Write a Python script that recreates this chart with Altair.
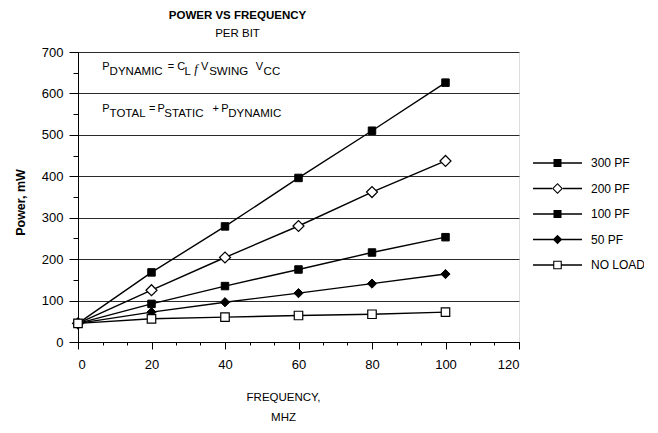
import altair as alt
import pandas as pd

# ---------------- data ----------------
freq = [0, 20, 40, 60, 80, 100]
series_names = ["300 PF", "200 PF", "100 PF", "50 PF", "NO LOAD"]
p_300pf = [45, 168, 279, 396, 510, 626]
p_200pf = [45, 125, 204, 280, 362, 437]
p_100pf = [45, 92, 135, 175, 216, 253]
p_50pf = [45, 72, 96, 118, 141, 164]
p_noload = [45, 56, 60, 64, 67, 72]

x_major_ticks = [0, 20, 40, 60, 80, 100, 120]
x_minor_ticks = [0, 6.667, 13.333, 20, 26.667, 33.333, 40, 46.667, 53.333, 60,
                 66.667, 73.333, 80, 86.667, 93.333, 100, 106.667, 113.333, 120]
y_major_ticks = [0, 100, 200, 300, 400, 500, 600, 700]
y_minor_ticks = [0, 50, 100, 150, 200, 250, 300, 350, 400, 450, 500, 550, 600, 650, 700]

# formula annotation pieces (text, x in MHz, y in mW, kind)
ann_text = ["P", "DYNAMIC", "=", "C", "L", "f", "V", "SWING", "V", "CC",
            "P", "TOTAL", "=", "P", "STATIC", "+", "P", "DYNAMIC"]
ann_x = [6.6, 8.6, 24.4, 27.0, 29.0, 31.6, 33.5, 35.7, 48.4, 50.5,
         6.6, 8.6, 19.3, 21.6, 23.5, 36.6, 39.0, 40.9]
ann_y = [658] * 10 + [557] * 8
ann_kind = ["main", "sub", "main", "main", "sub", "ital", "main", "sub", "main", "sub",
            "main", "sub", "main", "main", "sub", "main", "main", "sub"]

# ---------------- tables ----------------
all_vals = [p_300pf, p_200pf, p_100pf, p_50pf, p_noload]
rows = []
for name, vals in zip(series_names, all_vals):
    for f, v in zip(freq, vals):
        rows.append({"freq": f, "power": v, "series": name})
df = pd.DataFrame(rows)
ann = pd.DataFrame({"text": ann_text, "ax": ann_x, "ay": ann_y, "kind": ann_kind})

SANS = "Liberation Sans, Arial, sans-serif"

x_scale = alt.Scale(domain=[0, 120], nice=False, zero=False)
y_scale = alt.Scale(domain=[0, 700], nice=False)

# ---------------- legend symbols: line + marker as custom paths ----------------
SYM_SIZE = 144            # legend symbol "size" (12 px box)
R = (SYM_SIZE ** 0.5) / 2  # px per path unit
HALF_LINE = 24.5           # half length of the legend line sample, px


def u(px):
    return round(px / R, 4)


L = u(HALF_LINE)
T = u(0.7)


def rect(x0, x1, t):
    return f"M{x0},{-t}L{x1},{-t}L{x1},{t}L{x0},{t}Z"


def sq_filled(h):
    a = u(h)
    return rect(-L, L, T) + f"M{-a},{-a}L{a},{-a}L{a},{a}L{-a},{a}Z"


def sq_open(h, w):
    a, b = u(h), u(h - w)
    return (rect(-L, -a, T) + rect(a, L, T)
            + f"M{-a},{-a}L{a},{-a}L{a},{a}L{-a},{a}Z"
            + f"M{-b},{-b}L{-b},{b}L{b},{b}L{b},{-b}Z")


def dia_filled(h):
    a = u(h)
    return rect(-L, L, T) + f"M{-a},0L0,{-a}L{a},0L0,{a}Z"


def dia_open(h, w):
    a, b = u(h), u(h - w * 1.414)
    return (rect(-L, -a, T) + rect(a, L, T)
            + f"M{-a},0L0,{-a}L{a},0L0,{a}Z"
            + f"M{-b},0L0,{b}L{b},0L0,{-b}Z")


legend_paths = [sq_filled(4.0), dia_open(5.5, 1.1), sq_filled(4.0), dia_filled(4.8), sq_open(4.3, 1.1)]

# ---------------- axes ----------------
x_major = alt.Axis(values=x_major_ticks, orient="bottom", grid=False, tickSize=7,
                   tickColor="black", domainColor="black", labelFont=SANS,
                   labelFontSize=13, labelColor="black", labelPadding=9,
                   title=["FREQUENCY,", "MHZ"], titleFont=SANS, titleFontSize=11.5,
                   titleFontWeight="normal", titleColor="black", titleX=205, titleY=49,
                   titleAlign="center", titleBaseline="top", titleLineHeight=20)
y_major = alt.Axis(values=y_major_ticks, orient="left", grid=True, gridColor="#2a2a2a",
                   gridWidth=1, tickSize=9, tickColor="black", domainColor="black",
                   labelFont=SANS, labelFontSize=13, labelColor="black", labelPadding=6,
                   title="Power, mW", titleFont=SANS, titleFontSize=12.5,
                   titleFontWeight="bold", titleColor="black", titleX=-58, titleY=150,
                   titleAngle=-90, titleAlign="center", titleBaseline="middle")
x_minor = alt.Axis(values=x_minor_ticks, orient="bottom", labels=False, domain=False,
                   grid=False, tickSize=3, tickColor="black", title=None)
y_minor = alt.Axis(values=y_minor_ticks, orient="left", labels=False, domain=False,
                   grid=False, tickSize=5, tickColor="black", title=None)

base = alt.Chart(df)

lines = base.mark_line(color="black", strokeWidth=1.4).encode(
    x=alt.X("freq:Q", scale=x_scale, axis=x_major),
    y=alt.Y("power:Q", scale=y_scale, axis=y_major),
    detail="series:N",
)

minor = base.mark_point(size=0, opacity=0).encode(
    x=alt.X("freq:Q", scale=x_scale, axis=x_minor),
    y=alt.Y("power:Q", scale=y_scale, axis=y_minor),
)

enc = dict(x=alt.X("freq:Q", scale=x_scale, axis=None),
           y=alt.Y("power:Q", scale=y_scale, axis=None))

pts_sq_filled = base.transform_filter(
    alt.FieldOneOfPredicate(field="series", oneOf=["300 PF", "100 PF"])
).mark_point(shape="square", filled=True, fill="black", stroke="black",
             strokeWidth=1, size=56, opacity=1).encode(**enc)
pts_dia_open = base.transform_filter(
    alt.FieldEqualPredicate(field="series", equal="200 PF")
).mark_point(shape="diamond", filled=True, fill="white", stroke="black",
             strokeWidth=1.2, size=121, opacity=1).encode(**enc)
pts_dia_filled = base.transform_filter(
    alt.FieldEqualPredicate(field="series", equal="50 PF")
).mark_point(shape="diamond", filled=True, fill="black", stroke="black",
             strokeWidth=1, size=85, opacity=1).encode(**enc)
pts_sq_open = base.transform_filter(
    alt.FieldEqualPredicate(field="series", equal="NO LOAD")
).mark_point(shape="square", filled=True, fill="white", stroke="black",
             strokeWidth=1.2, size=72, opacity=1).encode(**enc)

legend_layer = base.mark_point(size=0, filled=True, fill="black", strokeWidth=0).encode(
    x=alt.X("freq:Q", scale=x_scale, axis=None),
    y=alt.Y("power:Q", scale=y_scale, axis=None),
    shape=alt.Shape("series:N",
                    scale=alt.Scale(domain=series_names, range=legend_paths),
                    sort=series_names,
                    legend=alt.Legend(title=None, orient="none", legendX=473.5, legendY=105,
                                      symbolSize=SYM_SIZE, symbolFillColor="black",
                                      symbolStrokeWidth=0, symbolOpacity=1,
                                      labelFont=SANS, labelFontSize=12,
                                      labelColor="black", labelOffset=27.5,
                                      rowPadding=13.5, padding=0)),
)

abase = alt.Chart(ann)
aenc = dict(x=alt.X("ax:Q", scale=x_scale, axis=None),
            y=alt.Y("ay:Q", scale=y_scale, axis=None),
            text="text:N")
ann_main = abase.transform_filter(alt.datum.kind == "main").mark_text(
    align="left", baseline="middle", font=SANS, fontSize=11, color="black", dy=-2
).encode(**aenc)
ann_sub = abase.transform_filter(alt.datum.kind == "sub").mark_text(
    align="left", baseline="middle", font=SANS, fontSize=11.5, color="black", dy=3
).encode(**aenc)
ann_ital = abase.transform_filter(alt.datum.kind == "ital").mark_text(
    align="left", baseline="middle", font="Liberation Serif, serif", fontStyle="italic",
    fontSize=12.5, color="black", dy=0
).encode(**aenc)

chart = alt.layer(
    lines, minor, pts_sq_filled, pts_dia_open, pts_dia_filled, pts_sq_open,
    legend_layer, ann_main, ann_sub, ann_ital,
).resolve_axis(
    x="independent", y="independent"
).resolve_scale(
    shape="independent"
).properties(
    width=441,
    height=290,
    autosize=alt.AutoSizeParams(type="none"),
    padding={"left": 70, "top": 44, "right": 125, "bottom": 81},
    title=alt.TitleParams(text="POWER VS FREQUENCY", subtitle="PER BIT",
                          anchor="middle", dx=-61, font=SANS, fontSize=11.5,
                          fontWeight="bold", color="black", subtitleFont=SANS,
                          subtitleFontSize=11.5, subtitleColor="black",
                          subtitlePadding=6, offset=7),
).configure_view(
    stroke="black", strokeWidth=1
).configure(background="white")

chart.save("out.html", embed_options={"renderer": "svg", "actions": False})
